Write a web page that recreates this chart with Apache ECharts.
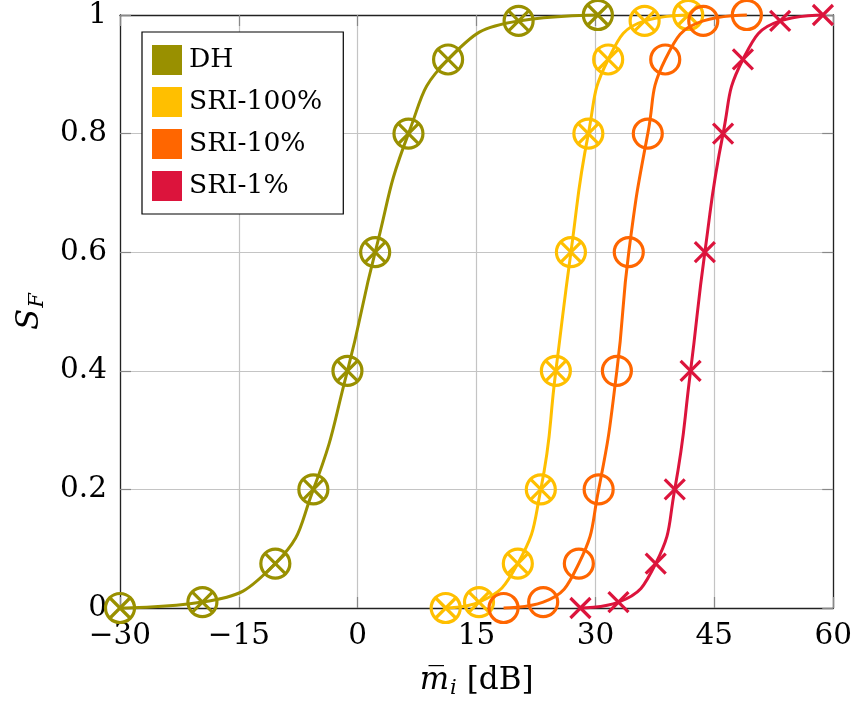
<!DOCTYPE html>
<html>
<head>
<meta charset="utf-8">
<script src="https://cdn.jsdelivr.net/npm/echarts@6/dist/echarts.min.js"></script>
<style>
  html, body { margin: 0; padding: 0; background: #fff; }
  #chart { width: 855px; height: 707px; }
</style>
</head>
<body>
<div id="chart"></div>
<script>
// ---- data ----
const seriesNames = ['DH', 'SRI-100%', 'SRI-10%', 'SRI-1%'];
const yVals   = [0, 0.01, 0.075, 0.2, 0.4, 0.6, 0.8, 0.925, 0.99, 1];
const dhX     = [-30, -19.6, -10.4, -5.6, -1.3, 2.2, 6.4, 11.4, 20.3, 30.3];
const sri100X = [11.1, 15.3, 20.2, 23.1, 25.0, 26.9, 29.1, 31.6, 36.2, 41.7];
const sri10X  = [18.4, 23.4, 27.9, 30.4, 32.7, 34.2, 36.6, 38.8, 43.6, 49.1];
const sri1X   = [28.1, 32.9, 37.6, 40.0, 42.0, 43.8, 46.1, 48.6, 53.3, 58.7];
const xTicks  = [-30, -15, 0, 15, 30, 45, 60];
const yTicks  = [0, 0.2, 0.4, 0.6, 0.8, 1];

const colors = ['#999000', '#ffbf00', '#ff6600', '#dc143c'];
const FONT = 'DejaVu Serif';

const circlePath = 'M0,-10A10,10 0 1,1 0,10A10,10 0 1,1 0,-10Z';
const crossPath = 'M-7.071,-7.071L7.071,7.071M7.071,-7.071L-7.071,7.071';
const otimes = 'path://' + circlePath + crossPath;
const circ = 'path://' + circlePath;
const cross = 'path://M-1,-1L1,1M1,-1L-1,1';

const xsList = [dhX, sri100X, sri10X, sri1X];
const symbols = [otimes, otimes, circ, cross];
const symSizes = [29, 29, 29, 20];

const pair = (xs) => xs.map((x, i) => [x, yVals[i]]);

const chart = echarts.init(document.getElementById('chart'), null, { renderer: 'canvas' });

const tickStyle = { show: true, inside: true, length: 11, lineStyle: { color: '#888', width: 1.2 } };
const axisLineStyle = { show: true, onZero: false, lineStyle: { color: '#222', width: 1.3 } };

const option = {
  animation: false,
  backgroundColor: '#fff',
  grid: { left: 120, right: 20, top: 15, bottom: 99, containLabel: false },
  legend: {
    orient: 'vertical',
    left: 142, top: 32,
    padding: [13, 21, 13, 10],
    itemGap: 12,
    itemWidth: 30, itemHeight: 30,
    icon: 'rect',
    backgroundColor: '#fff',
    borderColor: '#000', borderWidth: 1.2,
    textStyle: { fontFamily: FONT, fontSize: 26.5, color: '#000', padding: [0, 0, 0, 2] },
    data: seriesNames.map((n, i) => ({ name: n, icon: 'rect', itemStyle: { color: colors[i], borderWidth: 0 } })),
    selectedMode: false
  },
  xAxis: [{
    type: 'value', min: -30, max: 60, interval: 15,
    axisLine: axisLineStyle,
    axisTick: tickStyle,
    splitLine: { show: true, lineStyle: { color: '#c4c4c4', width: 1.2 } },
    axisLabel: {
      fontFamily: FONT, fontSize: 29.5, color: '#000', margin: 13,
      formatter: (v) => xTicks.includes(v) ? String(v).replace('-', '\u2212') : ''
    },
    name: '{m|m\u0305}{i|i}{t| [dB]}',
    nameLocation: 'middle', nameGap: 57,
    nameTextStyle: {
      rich: {
        m: { fontFamily: FONT, fontStyle: 'italic', fontSize: 31, color: '#000', lineHeight: 34, verticalAlign: 'top' },
        i: { fontFamily: FONT, fontStyle: 'italic', fontSize: 21, color: '#000', lineHeight: 21, padding: [16, 0, 0, 1], verticalAlign: 'bottom' },
        t: { fontFamily: FONT, fontSize: 31, color: '#000', lineHeight: 34, verticalAlign: 'top' }
      }
    }
  }, {
    type: 'value', min: -30, max: 60, interval: 15, position: 'top',
    axisLine: axisLineStyle, axisTick: tickStyle,
    splitLine: { show: false }, axisLabel: { show: false }
  }],
  yAxis: [{
    type: 'value', min: 0, max: 1, interval: 0.2,
    axisLine: axisLineStyle,
    axisTick: tickStyle,
    splitLine: { show: true, lineStyle: { color: '#c4c4c4', width: 1.2 } },
    axisLabel: {
      fontFamily: FONT, fontSize: 29.5, color: '#000', margin: 13,
      formatter: (v) => yTicks.some(t => Math.abs(t - v) < 1e-9) ? String(+v.toFixed(2)) : ''
    },
    name: '{s|S}{f|F}',
    nameLocation: 'middle', nameGap: 72, nameRotate: 90,
    nameTextStyle: {
      rich: {
        s: { fontFamily: FONT, fontStyle: 'italic', fontSize: 31, color: '#000', lineHeight: 34, verticalAlign: 'top' },
        f: { fontFamily: FONT, fontStyle: 'italic', fontSize: 21, color: '#000', lineHeight: 21, padding: [16, 0, 0, 1], verticalAlign: 'bottom' }
      }
    }
  }, {
    type: 'value', min: 0, max: 1, interval: 0.2, position: 'right',
    axisLine: axisLineStyle, axisTick: tickStyle,
    splitLine: { show: false }, axisLabel: { show: false }
  }],
  series: seriesNames.map((n, i) => ({
    name: n,
    type: 'line',
    data: pair(xsList[i]),
    smooth: 0.5,
    showAllSymbol: true,
    symbol: symbols[i],
    symbolSize: symSizes[i],
    lineStyle: { color: colors[i], width: 3 },
    itemStyle: { color: 'none', borderColor: colors[i], borderWidth: 3.2 },
    emphasis: { disabled: true },
    clip: false,
    z: 3 + i
  }))
};

chart.setOption(option);
</script>
</body>
</html>
